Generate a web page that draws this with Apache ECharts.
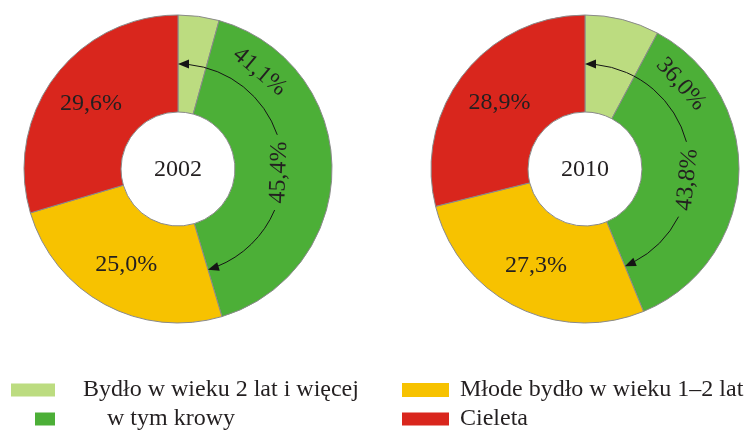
<!DOCTYPE html>
<html>
<head>
<meta charset="utf-8">
<script src="https://cdn.jsdelivr.net/npm/echarts@6/dist/echarts.min.js"></script>
<style>
  html, body { margin: 0; padding: 0; background: #fff; }
  #chart { width: 754px; height: 436px; }
</style>
</head>
<body>
<div id="chart"></div>
<script>
const years = ['2002', '2010'];
const categories = ['Bydło w wieku 2 lat i więcej', 'w tym krowy', 'Młode bydło w wieku 1–2 lat', 'Cieleta'];
// udziały w %, pierwszy = bydło 2+ lat bez krów (45,4 - 41,1 itd.)
const values2002 = [4.3, 41.1, 25.0, 29.6];
const values2010 = [7.8, 36.0, 27.3, 28.9];
const adultTotals = [45.4, 43.8];
const cowShares = [41.1, 36.0];

const colors = ['#bcdc80', '#4caf37', '#f7c200', '#d9261d'];
const FONT = '"Liberation Serif", "Times New Roman", serif';
const INK = '#231f20';

const centers = [[178, 169], [585, 169]];
const radius = [57, 154];
const arrowR = 105;
// pozycje opisów na łukach: [kąt (stopnie, przeciwnie do wskazówek od osi x), promień]
const cowLabelPos = [[50, 127], [41.5, 128]];
const totalLabelPos = [[-2, 101], [-6, 103]];
const gaps = [[19, -23], [15, -27]];

const fmt = (v) => v.toFixed(1).replace('.', ',') + '%';
const rad = (d) => d * Math.PI / 180;

function pieSeries(values, i) {
  return {
    type: 'pie',
    center: centers[i],
    radius: radius,
    startAngle: 90,
    clockwise: true,
    silent: true,
    itemStyle: { borderColor: '#8a8a8a', borderWidth: 1 },
    label: {
      show: true,
      position: 'inside',
      formatter: (p) => fmt(p.value),
      color: INK,
      fontSize: 24,
      fontFamily: FONT
    },
    labelLine: { show: false },
    data: values.map((v, k) => ({
      name: categories[k],
      value: v,
      itemStyle: { color: colors[k] },
      label: { show: k >= 2 }
    }))
  };
}

function arrowHead(tip, dir) {
  const len = 11, hw = 4.5;
  const bx = tip[0] - dir[0] * len, by = tip[1] - dir[1] * len;
  const nx = -dir[1], ny = dir[0];
  return {
    type: 'polygon',
    z: 10,
    shape: { points: [tip, [bx + nx * hw, by + ny * hw], [bx - nx * hw, by - ny * hw]] },
    style: { fill: '#151515' }
  };
}

function annotations(values, i) {
  const [cx, cy] = centers[i];
  const out = [];
  // rok w środku
  out.push({
    type: 'text', x: cx, y: cy + 1, z: 10,
    style: { text: years[i], font: '24px ' + FONT, fill: INK, align: 'center', verticalAlign: 'middle' }
  });
  // łuk ze strzałkami: od góry do granicy zielony/żółty
  const endPhi = -90 + (values[0] + values[1]) * 3.6;
  const arrowDeg = 11 / arrowR * 180 / Math.PI;
  out.push({
    type: 'arc', z: 10,
    shape: { cx, cy, r: arrowR, startAngle: rad(-90 + arrowDeg), endAngle: rad(-gaps[i][0]), clockwise: true },
    style: { stroke: '#151515', fill: null, lineWidth: 1 }
  });
  out.push({
    type: 'arc', z: 10,
    shape: { cx, cy, r: arrowR, startAngle: rad(-gaps[i][1]), endAngle: rad(endPhi - arrowDeg + 1), clockwise: true },
    style: { stroke: '#151515', fill: null, lineWidth: 1 }
  });
  out.push(arrowHead([cx, cy - arrowR], [-1, 0]));
  const p = rad(endPhi);
  out.push(arrowHead([cx + arrowR * Math.cos(p), cy + arrowR * Math.sin(p)], [-Math.sin(p), Math.cos(p)]));
  // opisy
  const [a1, r1] = cowLabelPos[i];
  out.push({
    type: 'text', z: 10,
    x: cx + r1 * Math.cos(rad(a1)), y: cy - r1 * Math.sin(rad(a1)),
    rotation: rad(a1 - 90),
    style: { text: fmt(cowShares[i]), font: '24px ' + FONT, fill: INK, align: 'center', verticalAlign: 'middle' }
  });
  const [a2, r2] = totalLabelPos[i];
  out.push({
    type: 'text', z: 10,
    x: cx + r2 * Math.cos(rad(a2)), y: cy - r2 * Math.sin(rad(a2)),
    rotation: rad(a2 + 90),
    style: { text: fmt(adultTotals[i]), font: '24px ' + FONT, fill: INK, align: 'center', verticalAlign: 'middle' }
  });
  return out;
}

function legendItem(k, left, top, w, h, gap) {
  return {
    data: [categories[k]],
    left, top,
    padding: 0,
    itemWidth: w,
    itemHeight: h,
    icon: 'rect',
    selectedMode: false,
    itemStyle: { borderWidth: 0 },
    textStyle: { fontSize: 24, fontFamily: FONT, color: INK, padding: [0, 0, 0, gap] }
  };
}

const chart = echarts.init(document.getElementById('chart'));
chart.setOption({
  animation: false,
  backgroundColor: '#fff',
  legend: [
    legendItem(0, 11, 378, 44, 13, 23),
    legendItem(1, 35, 407, 20, 13, 47),
    legendItem(2, 402, 378, 47, 14, 6),
    legendItem(3, 402, 407, 47, 13, 6)
  ],
  series: [pieSeries(values2002, 0), pieSeries(values2010, 1)],
  graphic: [...annotations(values2002, 0), ...annotations(values2010, 1)]
});
window.addEventListener('resize', chart.resize);
</script>
</body>
</html>
